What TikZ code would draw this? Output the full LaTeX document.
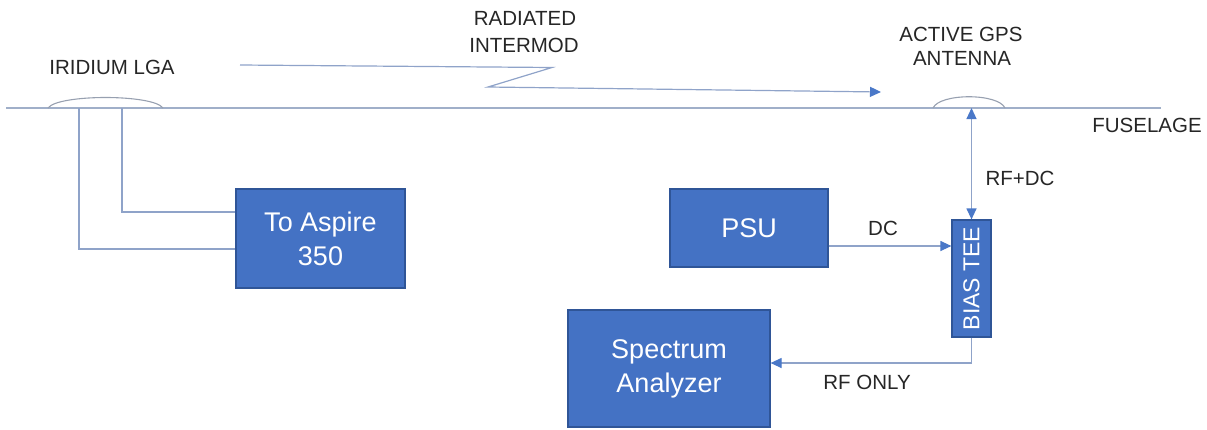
\documentclass[tikz,border=0pt]{standalone}
\usepackage{fontspec}
\setmainfont{Liberation Sans}
\usetikzlibrary{arrows.meta,calc}
\definecolor{boxfill}{HTML}{4472C4}
\definecolor{boxedge}{HTML}{2F5597}
\definecolor{wire}{HTML}{8FA3C9}
\definecolor{hull}{HTML}{A0AFC9}
\definecolor{dome}{HTML}{97A0B0}
\definecolor{tipblue}{HTML}{4A78C8}
\tikzset{
  block/.style={draw=boxedge, line width=1.2pt, fill=boxfill, text=white,
    inner sep=0pt, align=center, font=\fontsize{27}{34}\selectfont},
  lbl/.style={text=black!85, inner sep=0pt, align=center,
    font=\fontsize{20.5}{26}\selectfont},
  cable/.style={draw=wire, line width=1.2pt},
  sig/.style={draw=wire, line width=1.2pt,
    -{Triangle[length=11pt,width=10pt,fill=tipblue,color=tipblue]}},
  sig2/.style={draw=wire, line width=1.2pt,
    {Triangle[length=11pt,width=10pt,fill=tipblue,color=tipblue]}-{Triangle[length=11pt,width=10pt,fill=tipblue,color=tipblue]}},
}
\begin{document}
\begin{tikzpicture}[x=1pt,y=-1pt]
\useasboundingbox (0,0) rectangle (1207,429);

% fuselage skin and the two antenna domes
\coordinate (hullL) at (6,108);
\coordinate (hullR) at (1161,108);
\draw[hull, line width=1.4pt] (hullL) -- (hullR);
\draw[dome, line width=1.1pt] (48,108) .. controls (58,94) and (153,94) .. (163,108);
\draw[dome, line width=1.1pt] (933,108) .. controls (940,93) and (998,93) .. (1005,108);

% labels
\node[lbl] (lga) at (112,67) {IRIDIUM LGA};
\node[lbl] (rad) at (525,18) {RADIATED};
\node[lbl] (imd) at (524,45) {INTERMOD};
\node[lbl] (gps1) at (961,34) {ACTIVE GPS};
\node[lbl] (gps2) at (962,58) {ANTENNA};
\node[lbl] (fus) at (1147,125) {FUSELAGE};
\node[lbl] (rfdc) at (1020,178) {RF+DC};
\node[lbl] (dc) at (883,228) {DC};
\node[lbl] (rfo) at (867,382) {RF ONLY};

% equipment blocks
\node[block, minimum width=169pt, minimum height=99pt] (aspire) at (320.5,238.5) {To Aspire\\350};
\node[block, minimum width=158pt, minimum height=78pt] (psu) at (749,228) {PSU};
\node[block, minimum width=39pt, minimum height=117pt, font=\fontsize{23}{26}\selectfont] (bias) at (971.5,278.5) {\rotatebox{90}{BIAS TEE}};
\node[block, minimum width=202pt, minimum height=117pt] (spec) at (669,368.5) {Spectrum\\Analyzer};

% Iridium antenna feed lines
\coordinate (ir1) at (79,108);
\coordinate (ir2) at (122,108);
\draw[cable] (ir1) |- ($(aspire.west)+(0,10.5)$);
\draw[cable] (ir2) |- ($(aspire.west)+(0,-26.5)$);

% radiated intermod path
\coordinate (r0) at (240,65);
\coordinate (r1) at (552,67.5);
\coordinate (r2) at (488,87);
\coordinate (r3) at (881,92);
\draw[sig] (r0) -- (r1) -- (r2) -- (r3);

% GPS antenna to bias tee
\coordinate (gpsfeed) at (bias.north |- hullL);
\draw[sig2] (gpsfeed) -- (bias.north);

% PSU to bias tee
\draw[sig] (psu.east |- 0,246) -- (bias.west |- 0,246);

% bias tee RF port to analyzer
\draw[sig] (bias.south) |- (spec.east |- 0,363);
\end{tikzpicture}
\end{document}
